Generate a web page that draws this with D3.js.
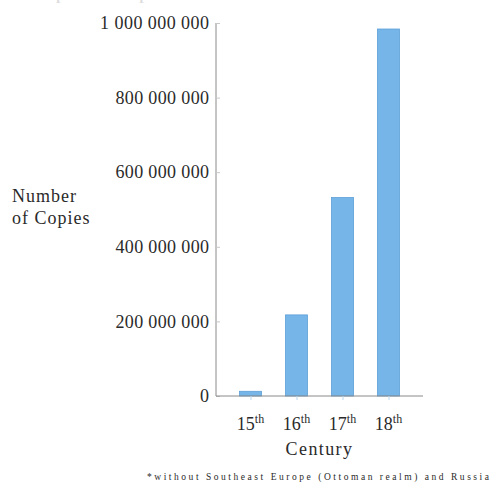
<!DOCTYPE html>
<html>
<head>
<meta charset="utf-8">
<script src="https://cdn.jsdelivr.net/npm/d3@7"></script>
<style>
  body { margin: 0; background: #fff; }
  text { font-family: "Liberation Serif", "DejaVu Serif", serif; fill: #2a2a2a; }
  .tick line { stroke: #c8c8c8; }
  .domain { stroke: #8a8a8a; }
</style>
</head>
<body>
<svg id="chart"></svg>
<script>
// data
const centuries = ["15", "16", "17", "18"];
const copies = [12589000, 217444000, 531941000, 983874000];
const yTicks = [0, 200000000, 400000000, 600000000, 800000000, 1000000000];

const width = 492, height = 484;
const margin = { top: 23, right: 69, bottom: 88, left: 216 };

const svg = d3.select("#chart")
    .attr("width", width)
    .attr("height", height);

// scales
const x = d3.scalePoint()
    .domain(centuries)
    .range([margin.left, width - margin.right])
    .padding(0.75);

const y = d3.scaleLinear()
    .domain([0, 1000000000])
    .range([height - margin.bottom, margin.top]);

const fmt = v => d3.format(",")(v).replace(/,/g, " ");
// width of a label: digits 9px, group gaps 6.3px
const labelWidth = s => s.replace(/ /g, "").length * 9 + (s.split(" ").length - 1) * 6.3;

// title, cut off at the top edge as in the source picture
svg.append("text")
    .attr("x", width / 2)
    .attr("y", 0)
    .attr("text-anchor", "middle")
    .attr("textLength", 470)
    .attr("lengthAdjust", "spacingAndGlyphs")
    .style("font-size", "15px")
    .style("fill", "#dcdcdc")
    .text("European Output of Printed Books ca. 1450–1800*");

// bars
const barW = 22;
svg.append("g")
  .selectAll("rect")
  .data(centuries)
  .join("rect")
    .attr("x", d => x(d) - barW / 2)
    .attr("y", (d, i) => y(copies[i]))
    .attr("width", barW)
    .attr("height", (d, i) => y(0) - y(copies[i]))
    .attr("fill", "#76b5e8")
    .attr("stroke", "#5c9fd8")
    .attr("stroke-width", 0.8);

// y axis
const yAxis = svg.append("g")
    .attr("transform", `translate(${margin.left},0)`)
    .call(d3.axisLeft(y).tickValues(yTicks).tickFormat(fmt).tickSize(-4).tickPadding(7));
yAxis.select(".domain").attr("d", `M0,${y(0)}V${y(1000000000)}`);
yAxis.selectAll(".tick text")
    .style("font-size", "18px")
    .attr("text-anchor", "start")
    .attr("x", d => -7 - labelWidth(fmt(d)))
    .attr("textLength", d => labelWidth(fmt(d)))
    .attr("lengthAdjust", "spacing");

// x axis
const xAxis = svg.append("g")
    .attr("transform", `translate(0,${y(0)})`)
    .call(d3.axisBottom(x).tickSize(4).tickFormat(""));
xAxis.select(".domain").attr("d", `M${margin.left},0H${width - margin.right}`);
xAxis.selectAll(".tick line").style("stroke", "#b9d6ee");

const xl = svg.append("g").selectAll("text")
  .data(centuries)
  .join("text")
    .attr("x", d => x(d))
    .attr("y", 430)
    .attr("text-anchor", "middle")
    .style("font-size", "18px");
xl.append("tspan").text(d => d);
xl.append("tspan")
    .attr("dy", -7)
    .style("font-size", "12px")
    .text("th");

// axis labels
svg.append("text")
    .attr("x", (margin.left + width - margin.right) / 2)
    .attr("y", 455)
    .attr("text-anchor", "middle")
    .style("font-size", "18px")
    .style("letter-spacing", "1.4px")
    .text("Century");

const yl = svg.append("text")
    .attr("x", 12)
    .style("font-size", "18px")
    .style("letter-spacing", "1px");
yl.append("tspan").attr("x", 12).attr("y", 202).text("Number");
yl.append("tspan").attr("x", 12).attr("y", 224).text("of Copies");

// footnote
svg.append("text")
    .attr("x", 147)
    .attr("y", 480)
    .attr("textLength", 342)
    .attr("lengthAdjust", "spacing")
    .style("font-size", "9.5px")
    .text("*without Southeast Europe (Ottoman realm) and Russia");
</script>
</body>
</html>
